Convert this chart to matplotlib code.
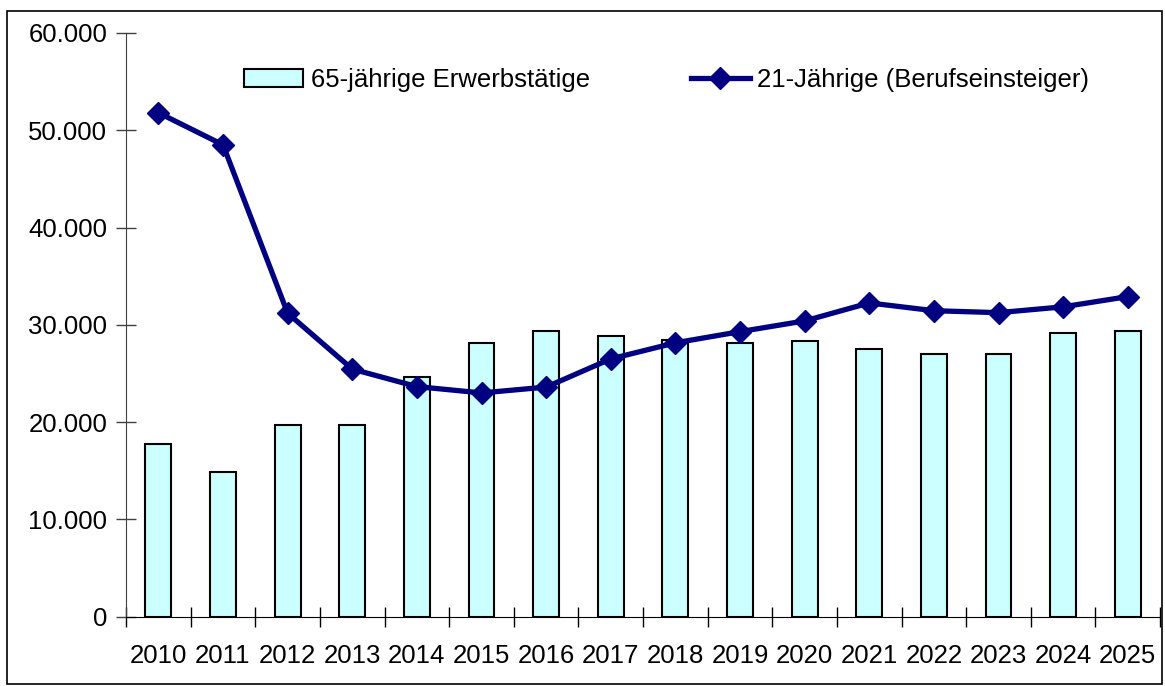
import numpy as np
import matplotlib.pyplot as plt
from matplotlib.patches import Rectangle
from matplotlib.ticker import FuncFormatter

years = ['2010', '2011', '2012', '2013', '2014', '2015', '2016', '2017',
         '2018', '2019', '2020', '2021', '2022', '2023', '2024', '2025']
erwerbstaetige_65 = [17700, 14850, 19700, 19700, 24650, 28150, 29400, 28800,
                     28450, 28150, 28350, 27500, 26950, 26950, 29200, 29350]
jaehrige_21 = [51800, 48500, 31200, 25450, 23650, 23000, 23600, 26500,
               28150, 29300, 30400, 32250, 31450, 31250, 31850, 32900]

plt.rcParams['font.family'] = ['Liberation Sans', 'DejaVu Sans']
plt.rcParams['font.size'] = 18.5

fig = plt.figure(figsize=(11.65, 6.86), dpi=100)
ax = fig.add_axes([0.1082, 0.101, 0.8876, 0.851])

x = np.arange(len(years))
bars = ax.bar(x, erwerbstaetige_65, width=0.4, color='#ccffff', edgecolor='black',
              linewidth=1.5, label='65-jährige Erwerbstätige', zorder=2)
line, = ax.plot(x, jaehrige_21, color='#000080', lw=3.8, marker='D', markersize=11,
                label='21-Jährige (Berufseinsteiger)', zorder=3)

ax.set_xlim(-0.5, len(years) - 0.5)
ax.set_ylim(0, 60000)
ax.set_yticks(np.arange(0, 60001, 10000))
ax.yaxis.set_major_formatter(FuncFormatter(lambda v, p: f'{int(v):,}'.replace(',', '.')))
ax.tick_params(axis='y', direction='inout', length=15, width=1, color='#404040', pad=6)

ax.set_xticks(x)
ax.set_xticklabels(years)
ax.set_xticks(np.arange(-0.5, len(years), 1.0), minor=True)
ax.tick_params(axis='x', which='major', length=0, pad=20)
ax.tick_params(axis='x', which='minor', direction='inout', length=14, width=1)

ax.spines['top'].set_visible(False)
ax.spines['right'].set_visible(False)
ax.spines['left'].set_color('#404040')

ax.legend(handles=[bars, line], loc='center', bbox_to_anchor=(0.523, 0.92), ncol=2,
          frameon=False, columnspacing=3.9, handlelength=2.3, handletextpad=0.3,
          fontsize=18.5)

fig.patches.append(Rectangle((0.006, 0.003), 0.991, 0.981, transform=fig.transFigure,
                             fill=False, edgecolor='black', linewidth=1.2))

plt.savefig('out.png', dpi=100)
plt.close()
